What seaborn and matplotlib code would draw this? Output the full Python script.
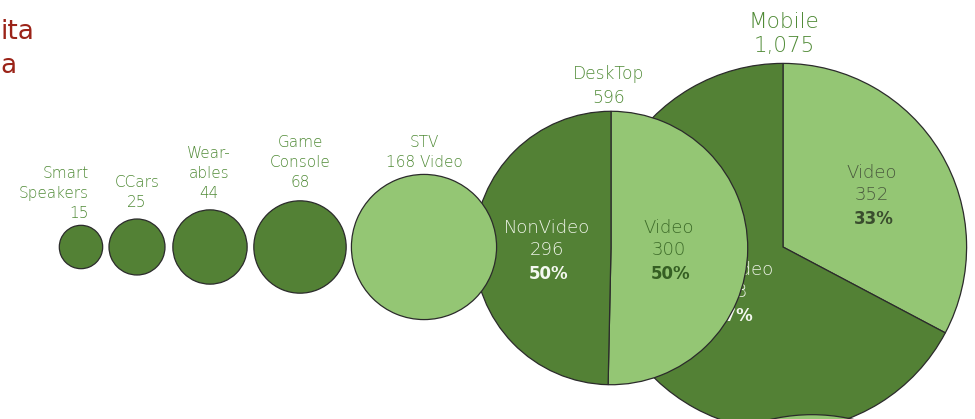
import numpy as np
import pandas as pd
import seaborn as sns
import matplotlib.pyplot as plt
from matplotlib.patches import Wedge

# data
devices = ['Smart\nSpeakers', 'CCars', 'Wear-\nables', 'Game\nConsole', 'STV', 'DeskTop', 'Mobile', '']
totals = [15, 25, 44, 68, 168, 596, 1075, 1060]
video = [0, 0, 0, 0, 168, 300, 352, 1060]
nonvideo = [15, 25, 44, 68, 0, 296, 723, 0]
value_labels = ['15', '25', '44', '68', '168 Video', '596', '1,075', '']

df = pd.DataFrame({'device': devices, 'total': totals, 'video': video, 'nonvideo': nonvideo})

# layout (pixels)
cx = [81, 137, 210, 300, 424, 611, 783, 812]
cy = [247, 247, 247, 247, 247, 248, 247, 597]
zord = [20, 19, 18, 17, 16, 15, 10, 12]
k = 5.6  # radius = k * sqrt(value)

dark = '#538135'
light = '#94c674'
txt = '#4f8a35'
edge = '#2b2b2b'

sns.set_style('white')
plt.rcParams['font.family'] = ['DejaVu Sans']

fig = plt.figure(figsize=(9.75, 4.19), dpi=100)
ax = fig.add_axes([0, 0, 1, 1])
ax.set_xlim(0, 975)
ax.set_ylim(419, 0)
ax.set_aspect('equal')
ax.axis('off')

# y axis points down, so angles run clockwise on screen; -90 is the top
for i, row in df.iterrows():
    r = k * np.sqrt(row['total'])
    a = 360 * row['video'] / row['total']
    z = zord[i]
    if a > 0:
        ax.add_patch(Wedge((cx[i], cy[i]), r, -90, -90 + a, facecolor=light,
                           edgecolor=edge, lw=0.9, zorder=z))
    if a < 360:
        ax.add_patch(Wedge((cx[i], cy[i]), r, -90 + a, 270, facecolor=dark,
                           edgecolor=edge, lw=0.9, zorder=z))

# device labels above circles (baseline of the last line)
lab_pos = [(89, 218, 'right'), (137, 207, 'center'), (209, 198, 'center'),
           (300, 187, 'center'), (424, 167, 'center'), (609, 103, 'center'),
           (784, 52, 'center')]
for i, (x, y, ha) in enumerate(lab_pos):
    big = devices[i] == 'Mobile'
    mid = devices[i] == 'DeskTop'
    fs = 15.5 if big else (12.3 if mid else 11)
    ax.text(x, y, devices[i] + '\n' + value_labels[i], ha=ha, va='baseline',
            fontsize=fs, color=txt, fontweight='light',
            linespacing=1.4 if not big else 1.25, zorder=30)

# slice labels
slices = [
    # x, y, name, value, pct, name colour, pct colour, zorder
    (547, 255, 'NonVideo', '296', '50%', '#eef4e8', '#f4f8f0', 16),
    (669, 255, 'Video', '300', '50%', '#3d6b29', '#355f23', 16),
    (872, 200, 'Video', '352', '33%', '#4a5a3e', '#3a4d2e', 11),
    (731, 297, 'NonVideo', '723', '67%', '#eef4e8', '#f4f8f0', 11),
]
for x, y, name, val, pct, col, pcol, z in slices:
    ax.text(x, y, name + '\n' + val, ha='center', va='baseline', fontsize=13,
            color=col, fontweight='light', linespacing=1.3, zorder=z)
    ax.text(x + 2, y + 24, pct, ha='center', va='baseline', fontsize=12,
            color=pcol, fontweight='bold', zorder=z)

# title fragments visible at the left edge
fig.text(0.5 / 975, 1 - 39 / 419, 'ita', ha='left', va='baseline',
         fontsize=19, color='#9b2318')
fig.text(0.5 / 975, 1 - 73 / 419, 'a', ha='left', va='baseline',
         fontsize=19, color='#9b2318')

fig.savefig('out.png', dpi=100)
